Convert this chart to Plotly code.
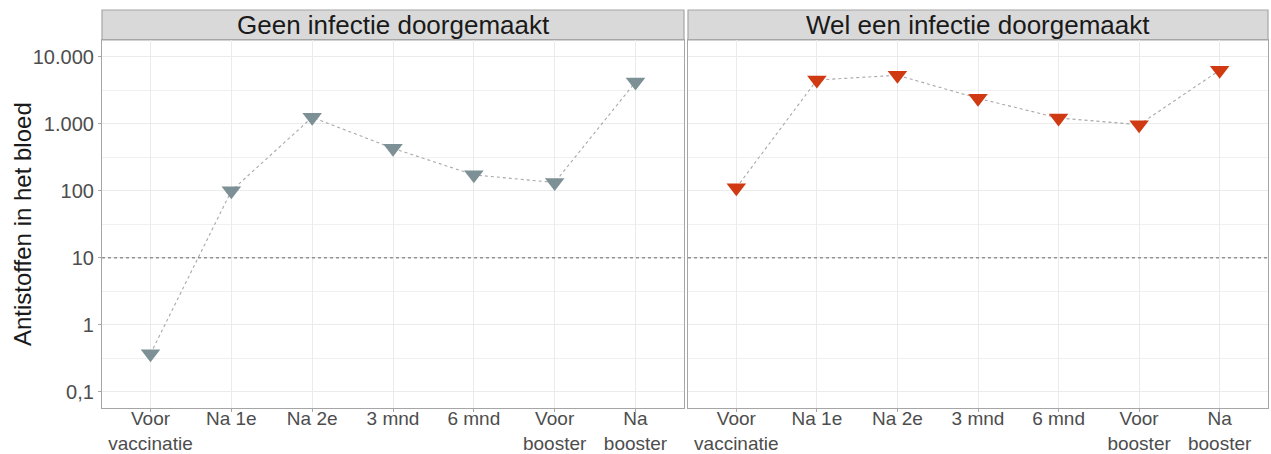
import plotly.graph_objects as go

categories = ["Voor<br>vaccinatie", "Na 1e", "Na 2e", "3 mnd", "6 mnd", "Voor<br>booster", "Na<br>booster"]
geen_infectie = [0.37, 100, 1250, 430, 173, 133, 4200]
wel_infectie = [111, 4500, 5300, 2400, 1220, 970, 6300]
panel_titles = ["Geen infectie doorgemaakt", "Wel een infectie doorgemaakt"]
ytick_vals = [0.1, 1, 10, 100, 1000, 10000]
ytick_text = ["0,1", "1", "10", "100", "1.000", "10.000"]
y_title = "Antistoffen in het bloed"
threshold = 10

FONT = "Liberation Sans, Arial, sans-serif"
W, H = 1271, 454
ML, MR, MT, MB = 102, 3, 40, 46
pw = W - ML - MR
ph = H - MT - MB

x_pos = list(range(1, len(categories) + 1))
minor_vals = [10 ** (k + 0.5) for k in range(-2, 5)]

fig = go.Figure()
colors = ["#7D9095", "#CF3A12"]
series = [geen_infectie, wel_infectie]
for i, (vals, col) in enumerate(zip(series, colors)):
    xa = "x" if i == 0 else "x2"
    ya = "y" if i == 0 else "y2"
    fig.add_trace(go.Scatter(
        x=x_pos, y=vals, xaxis=xa, yaxis=ya, mode="lines+markers",
        line=dict(color="#A8A8A8", width=1.1, dash="dot"),
        marker=dict(symbol="triangle-down", size=17, color=col, line=dict(width=0)),
        showlegend=False, hoverinfo="skip",
    ))

d1 = (684 - ML) / pw
d2 = (688 - ML) / pw
xcommon = dict(
    range=[0.4, 7.6], tickvals=x_pos, ticktext=categories,
    showgrid=True, gridcolor="#EBEBEB", gridwidth=1,
    showline=True, mirror=True, linecolor="#A6A6A6", linewidth=1.2,
    ticks="outside", ticklen=3, tickcolor="#A6A6A6",
    tickfont=dict(family=FONT, size=19, color="#4D4D4D"),
    ticklabelstandoff=-10,
    zeroline=False, fixedrange=True, automargin=False,
)
ycommon = dict(
    type="log", range=[-1.24, 4.25], tickvals=ytick_vals,
    showgrid=True, gridcolor="#EBEBEB", gridwidth=1,
    minor=dict(tickvals=minor_vals, showgrid=True, gridcolor="#F0F0F0", gridwidth=1, ticks=""),
    showline=True, mirror=True, linecolor="#A6A6A6", linewidth=1.2,
    zeroline=False, fixedrange=True, automargin=False,
)
fig.update_layout(
    width=W, height=H,
    margin=dict(l=ML, r=MR, t=MT, b=MB),
    paper_bgcolor="white", plot_bgcolor="white",
    xaxis=dict(domain=[0, d1], anchor="y", **xcommon),
    xaxis2=dict(domain=[d2, 1], anchor="y2", **xcommon),
    yaxis=dict(domain=[0, 1], anchor="x", ticktext=ytick_text,
               ticks="outside", ticklen=3, tickcolor="#A6A6A6",
               tickfont=dict(family=FONT, size=20, color="#4D4D4D"),
               **ycommon),
    yaxis2=dict(domain=[0, 1], anchor="x2", showticklabels=False, ticks="", **ycommon),
    font=dict(family=FONT),
)

fig.add_annotation(xref="paper", yref="paper", x=(22 - ML) / pw, y=(408 - 224) / ph,
                   text=y_title, textangle=-90, showarrow=False,
                   xanchor="center", yanchor="middle",
                   font=dict(family=FONT, size=24, color="#1A1A1A"))

strip_h = 30 / ph
for i, (title, dom) in enumerate(zip(panel_titles, [[0, d1], [d2, 1]])):
    fig.add_shape(type="rect", xref="paper", yref="paper", x0=dom[0], x1=dom[1], y0=1, y1=1 + strip_h,
                  fillcolor="#D9D9D9", line=dict(color="#A6A6A6", width=1.2), layer="below")
    fig.add_annotation(xref="paper", yref="paper", x=(dom[0] + dom[1]) / 2, y=1 + strip_h / 2,
                       text=title, showarrow=False, yanchor="middle", xanchor="center",
                       font=dict(family=FONT, size=26, color="#1A1A1A"))
    xr = "x domain" if i == 0 else "x2 domain"
    yr = "y" if i == 0 else "y2"
    fig.add_shape(type="line", xref=xr, yref=yr, x0=0, x1=1, y0=threshold, y1=threshold,
                  line=dict(color="#666666", width=1, dash="3px,3px"), layer="above")

fig.write_html("out.html", config={"displayModeBar": False},
               post_script="document.body.style.margin='0';document.body.style.overflow='hidden';")
